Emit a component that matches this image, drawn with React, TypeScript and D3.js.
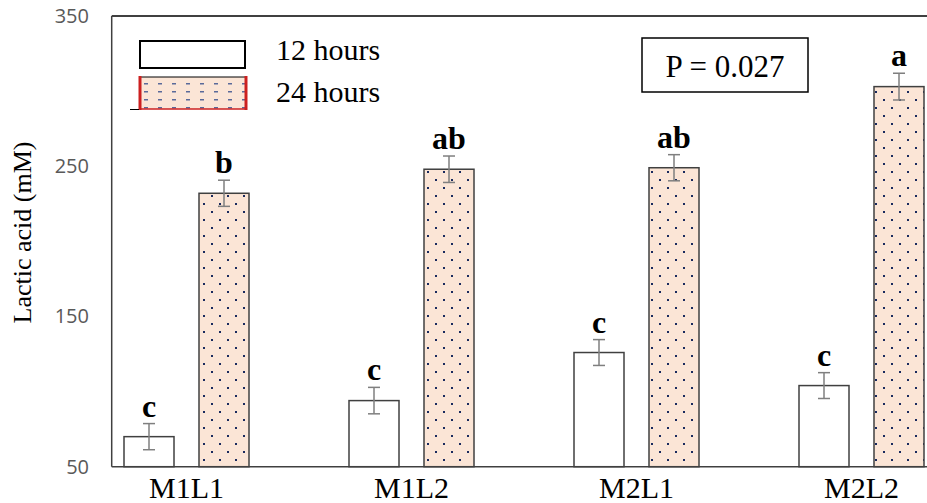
import React from "react";
import * as d3 from "d3";

// Treatments and sampling times
const categories = ["M1L1", "M1L2", "M2L1", "M2L2"];
const seriesNames = ["12 hours", "24 hours"];

// Lactic acid (mM) means and standard errors
const values12h = [70, 94, 126, 104];
const values24h = [232, 248, 249, 303];
const err12h = [8.7, 8.8, 8.6, 8.6];
const err24h = [8.7, 8.8, 8.7, 8.9];

// Significance letters
const letters12h = ["c", "c", "c", "c"];
const letters24h = ["b", "ab", "ab", "a"];

const yTicks = [50, 150, 250, 350];
const pLabel = "P = 0.027";

const W = 927;
const H = 503;
const axisLeft = 111.7;
const plotTop = 16;
const plotBottom = 466.7;

export default function App() {
  const y = d3.scaleLinear().domain([50, 350]).range([plotBottom, plotTop]);
  const x = d3.scalePoint<string>().domain(categories).range([186.5, 861.5]);
  const xs = d3
    .scaleBand<string>()
    .domain(seriesNames)
    .range([-62.5, 62.5])
    .paddingInner(1 / 3)
    .paddingOuter(0);
  const bw = xs.bandwidth();

  const serif = "'Liberation Serif', 'Times New Roman', serif";

  const series = [
    { name: seriesNames[0], vals: values12h, errs: err12h, letters: letters12h, fill: "#ffffff" },
    { name: seriesNames[1], vals: values24h, errs: err24h, letters: letters24h, fill: "url(#dots)" },
  ];

  return (
    <svg
      width={W}
      height={H}
      style={{ position: "absolute", left: 0, top: 0, background: "#fff" }}
    >
      <defs>
        <pattern id="dots" patternUnits="userSpaceOnUse" width={16} height={16} x={0} y={0}>
          <rect width={16} height={16} fill="#fbe5d6" />
          <rect x={3} y={3} width={2} height={2} fill="#1a2a5e" />
          <rect x={11} y={11} width={2} height={2} fill="#1a2a5e" />
        </pattern>
        <pattern id="dashes" patternUnits="userSpaceOnUse" width={14} height={8} x={0} y={0}>
          <rect width={14} height={8} fill="#fbe5d6" />
          <rect x={4} y={3} width={4} height={1.5} fill="#5a6a9a" />
        </pattern>
      </defs>

      {/* frame: top border */}
      <line x1={axisLeft} x2={W} y1={plotTop} y2={plotTop} stroke="#000" strokeWidth={1.5} />

      {/* bars */}
      {series.map((s) =>
        categories.map((c, i) => {
          const cx = (x(c) as number) + (xs(s.name) as number);
          const top = y(s.vals[i]);
          const mid = cx + bw / 2;
          const eTop = y(s.vals[i] + s.errs[i]);
          const eBot = y(s.vals[i] - s.errs[i]);
          return (
            <g key={s.name + c}>
              <rect
                x={cx}
                y={top}
                width={bw}
                height={plotBottom - top}
                fill={s.fill}
                stroke="#404040"
                strokeWidth={1.5}
              />
              <line x1={mid} x2={mid} y1={eTop} y2={eBot} stroke="#7f7f7f" strokeWidth={1.5} />
              <line x1={mid - 6} x2={mid + 6} y1={eTop} y2={eTop} stroke="#7f7f7f" strokeWidth={1.5} />
              <line x1={mid - 6} x2={mid + 6} y1={eBot} y2={eBot} stroke="#7f7f7f" strokeWidth={1.5} />
              <text
                x={mid}
                y={eTop - 7}
                textAnchor="middle"
                fontFamily={serif}
                fontWeight="bold"
                fontSize={32}
                fill="#000"
              >
                {s.letters[i]}
              </text>
            </g>
          );
        })
      )}

      {/* axes */}
      <line x1={axisLeft} x2={axisLeft} y1={plotTop} y2={plotBottom} stroke="#404040" strokeWidth={1.5} />
      <line x1={axisLeft} x2={W} y1={plotBottom} y2={plotBottom} stroke="#404040" strokeWidth={1.5} />

      {/* y tick labels */}
      {yTicks.map((t) => (
        <text
          key={t}
          x={89}
          y={y(t)}
          dy="0.35em"
          textAnchor="end"
          fontFamily="'Open Sans', sans-serif"
          fontSize={20}
          fill="#595959"
        >
          {t}
        </text>
      ))}

      {/* category labels */}
      {categories.map((c) => (
        <text
          key={c}
          x={x(c) as number}
          y={498}
          textAnchor="middle"
          fontFamily={serif}
          fontSize={30}
          fill="#000"
        >
          {c}
        </text>
      ))}

      {/* y axis title */}
      <text
        transform={`translate(31, ${232.5}) rotate(-90)`}
        textAnchor="middle"
        fontFamily={serif}
        fontSize={26}
        fill="#000"
      >
        Lactic acid (mM)
      </text>

      {/* legend */}
      <rect x={140} y={41} width={105} height={27} fill="#fff" stroke="#000" strokeWidth={2} />
      <text x={276} y={60} fontFamily={serif} fontSize={30} fill="#000">
        {seriesNames[0]}
      </text>
      <rect x={139} y={77} width={108} height={32} fill="url(#dashes)" />
      <line x1={139} x2={247} y1={77} y2={77} stroke="#000" strokeWidth={1} />
      <line x1={139} x2={247} y1={109} y2={109} stroke="#cc2020" strokeWidth={1.5} />
      <line x1={140} x2={140} y1={76} y2={110} stroke="#cc2020" strokeWidth={3} />
      <line x1={246} x2={246} y1={76} y2={110} stroke="#cc2020" strokeWidth={3} />
      <line x1={130} x2={139} y1={109.5} y2={109.5} stroke="#000" strokeWidth={1} />
      <text x={276} y={102} fontFamily={serif} fontSize={30} fill="#000">
        {seriesNames[1]}
      </text>

      {/* p-value box */}
      <rect x={642} y={38} width={166} height={54} fill="#fff" stroke="#000" strokeWidth={1.5} />
      <text x={725} y={76.5} textAnchor="middle" fontFamily={serif} fontSize={31} fill="#000">
        {pLabel}
      </text>
    </svg>
  );
}
